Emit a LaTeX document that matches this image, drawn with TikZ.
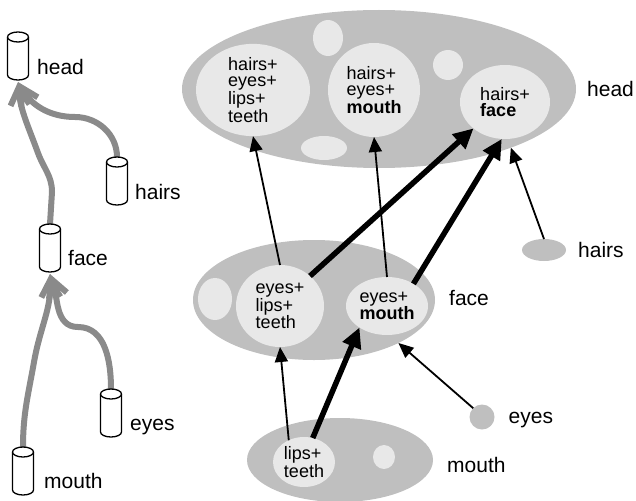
\documentclass[tikz,border=0pt]{standalone}
\usepackage{fontspec}
\setmainfont{Liberation Sans}
\usepackage{tikz}
\usetikzlibrary{shapes.geometric,positioning,calc,arrows.meta}

% cylinder drawn round an empty node
\newcommand{\drum}[1]{%
  \draw[drumline] ($(#1.north west)+(0,5)$) -- ($(#1.south west)+(0,-5)$)
    arc[start angle=180, end angle=360, x radius=10.5pt, y radius=5pt]
    -- ($(#1.north east)+(0,5)$)
    arc[start angle=0, end angle=180, x radius=10.5pt, y radius=5pt] -- cycle;
  \draw[drumline] ($(#1.north west)+(0,5)$)
    arc[start angle=180, end angle=360, x radius=10.5pt, y radius=5pt];}

\begin{document}
\begin{tikzpicture}[x=1pt, y=-1pt,
  can/.style={rectangle, minimum width=21pt, minimum height=48pt, inner sep=0pt, outer sep=0pt},
  drumline/.style={draw=black, fill=white, line width=1.3pt},
  lbl/.style={anchor=base west, inner sep=0pt, font=\fontsize{21}{24}\selectfont},
  grp/.style={ellipse, fill=black!25, inner sep=0pt, outer sep=0pt},
  part/.style={ellipse, fill=black!9, inner sep=0pt, outer sep=0pt, align=left, font=\fontsize{18}{16.5}\selectfont},
  blob/.style={ellipse, fill=black!9, inner sep=0pt, outer sep=0pt},
  tree/.style={line width=6pt, draw=black!46, line cap=round, -{Straight Barb[length=17pt, width=19pt]}},
  link/.style={line width=1.8pt, -{Triangle[length=15pt, width=13pt]}},
  strong/.style={line width=5.5pt, -{Triangle[length=20pt, width=19pt]}}]
  \useasboundingbox (0,0) rectangle (636,500);

  % Part tree (Left)
  \node[can] (lhead) at (18,56) {};
  \node[can] (lhairs) at (117,181) {};
  \node[can] (lface) at (50,248) {};
  \node[can] (leyes) at (111,413) {};
  \node[can] (lmouth) at (23,471) {};
  \node[lbl] at ($(lhead.center)+(19,19)$) {head};
  \node[lbl] at ($(lhairs.center)+(18,18)$) {hairs};
  \node[lbl] at ($(lface.center)+(18,17)$) {face};
  \node[lbl] at ($(leyes.center)+(19,17)$) {eyes};
  \node[lbl] at ($(lmouth.center)+(21,17)$) {mouth};

  \draw[tree] (lhairs.north) to[out=90, in=0] (75,117) to[out=180, in=-60] ($(lhead.south)+(0,2)$);
  \draw[tree] (lface.north) -- (52,192) to[out=90, in=-70] (38,153) to[out=110, in=-85] ($(lhead.south)+(0,2)$);
  \draw[tree] (leyes.north) to[out=90, in=0] (78,327) to[out=180, in=-70] ($(lface.south)+(0,2)$);
  \draw[tree] (lmouth.north) to[out=90, in=-100] (34,362) to[out=80, in=-88] ($(lface.south)+(0,2)$);

  \drum{lhead}
  \drum{lhairs}
  \drum{lface}
  \drum{leyes}
  \drum{lmouth}

  % Head level
  \node[grp, minimum width=394pt, minimum height=158pt] (head) at (379,89) {};
  \node[blob, minimum width=30pt, minimum height=36pt] (hD) at (328,38) {};
  \node[blob, minimum width=46pt, minimum height=24pt] (hE) at (324,148) {};
  \node[blob, minimum size=30pt] (hF) at (448,65) {};
  \node[part, minimum width=114pt, minimum height=90pt] (hA) at (253,90) {hairs+\\eyes+\\lips+\\teeth};
  \node[part, minimum width=92pt, minimum height=94pt] (hB) at (374,90) {hairs+\\eyes+\\\textbf{mouth}};
  \node[part, minimum width=90pt, minimum height=74pt] (hC) at (505,102) {hairs+\\\textbf{face}};
  \node[lbl] at ($(head.east)+(11,8)$) {head};

  % Face level
  \node[grp, minimum width=242pt, minimum height=120pt] (face) at (314,300) {};
  \node[blob, minimum width=34pt, minimum height=42pt] (fC) at (215,299) {};
  \node[part, minimum width=88pt, minimum height=82pt] (fA) at (280,306) {eyes+\\lips+\\teeth};
  \node[part, minimum width=82pt, minimum height=58pt] (fB) at (387,306) {eyes+\\\textbf{mouth}};
  \node[lbl] at ($(face.east)+(14,5)$) {face};

  % Mouth level
  \node[grp, minimum width=186pt, minimum height=84pt] (mouth) at (340,460) {};
  \node[part, minimum width=62pt, minimum height=50pt] (mA) at (304,462) {lips+\\teeth};
  \node[blob, minimum width=22pt, minimum height=24pt] (mB) at (384,457) {};
  \node[lbl] at ($(mouth.east)+(14,12)$) {mouth};

  % Single parts
  \node[grp, minimum width=44pt, minimum height=22pt] (hairs) at (544,250) {};
  \node[lbl] at ($(hairs.east)+(12,7)$) {hairs};
  \node[grp, minimum size=25pt] (eyes) at (482,417) {};
  \node[lbl] at ($(eyes.east)+(14,6)$) {eyes};

  % Links
  \draw[link] (fA.north) -- (hA.south);
  \draw[link] (fB.north) -- (hB.south);
  \draw[link] (hairs.north) -- (head.-24);
  \draw[link] (mA.125) -- (fA.south);
  \draw[link] (eyes.135) -- (face.-27);
  \draw[strong] (fA.45) -- (hC.220);
  \draw[strong] (fB.40) -- (hC.265);
  \draw[strong] (mA.70) -- (fB.218);
\end{tikzpicture}
\end{document}
